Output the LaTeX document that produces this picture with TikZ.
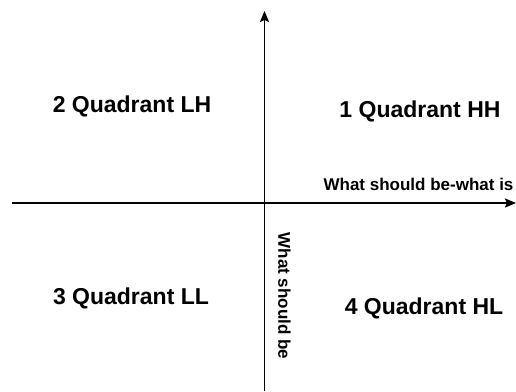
\documentclass[tikz,border=0pt]{standalone}
\usepackage{fontspec}
\setmainfont{Liberation Sans}
\usetikzlibrary{arrows.meta}
\tikzset{
  axis/.style={line width=1.9pt,-{Stealth[length=11pt,width=9pt,inset=2pt]}},
  quadlabel/.style={anchor=base,inner sep=0pt,font=\fontsize{23}{27}\selectfont\bfseries},
  axislabel/.style={inner sep=0pt,font=\fontsize{17}{20}\selectfont\bfseries}
}
\begin{document}
\begin{tikzpicture}[x=1pt,y=-1pt]
\useasboundingbox (0,0) rectangle (516,391);
\coordinate (xstart) at (12,203);
\coordinate (xend) at (516,203);
\coordinate (ystart) at (264.5,391);
\coordinate (yend) at (264.5,11);
\draw[axis] (xstart) -- (xend);
\draw[axis] (ystart) -- (yend);
\node[quadlabel] (q2) at (132,112) {2 Quadrant LH};
\node[quadlabel] (q1) at (420,117) {1 Quadrant HH};
\node[quadlabel] (q3) at (131,304) {3 Quadrant LL};
\node[quadlabel] (q4) at (424,314) {4 Quadrant HL};
\node[axislabel,anchor=base] (xlab) at (418.5,190) {What should be-what is};
\node[axislabel,rotate=-90] (ylab) at (284.5,296) {What should be};
\end{tikzpicture}
\end{document}
